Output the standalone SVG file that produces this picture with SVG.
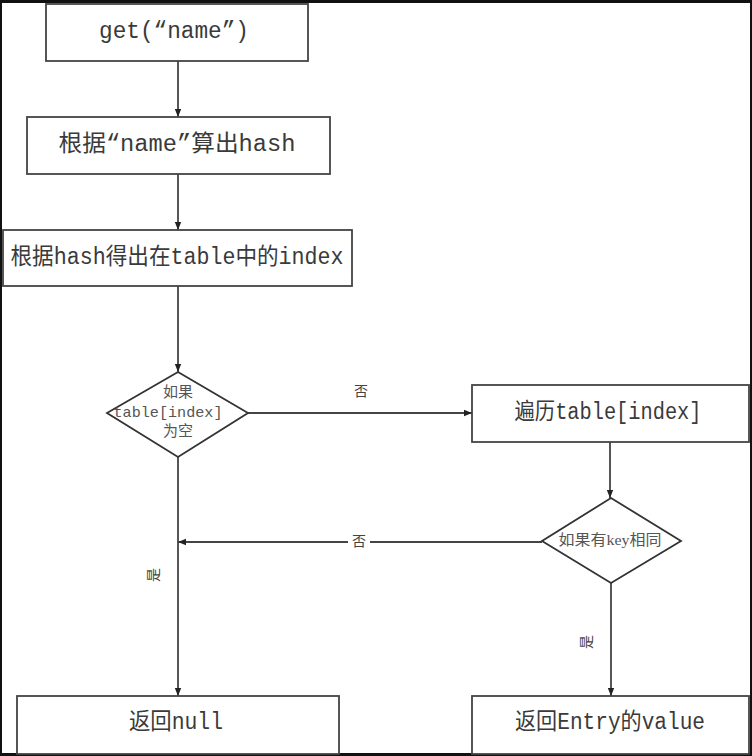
<svg xmlns="http://www.w3.org/2000/svg" width="752" height="756" viewBox="0 0 752 756">
  <defs>
    <marker id="arr" viewBox="0 0 10 10" refX="10" refY="5" markerWidth="8" markerHeight="8" markerUnits="userSpaceOnUse" orient="auto">
      <path d="M0,1 L10,5 L0,9 Z" fill="#222"/>
    </marker>
    <style>
      .box { fill: #fff; stroke: #444; stroke-width: 1.8; }
      .dia { fill: #fff; stroke: #333; stroke-width: 1.8; }
      .ln { fill: none; stroke: #444; stroke-width: 1.8; }
      .t { font-family: "Liberation Mono", "Noto Sans CJK SC", monospace; font-size: 23px; fill: #3a3a3a; text-anchor: middle; dominant-baseline: central; }
      .s { font-family: "Liberation Mono", "Noto Sans CJK SC", monospace; font-size: 15px; fill: #555; text-anchor: middle; dominant-baseline: central; }
      .k { font-family: "Liberation Serif", "Noto Sans CJK SC", serif; font-size: 15px; fill: #555; text-anchor: middle; dominant-baseline: central; }
      .lbl { font-family: "Noto Sans CJK SC", sans-serif; font-size: 14px; fill: #444; text-anchor: middle; dominant-baseline: central; }
    </style>
  </defs>
  <rect x="0" y="0" width="752" height="756" fill="#111"/>
  <rect x="2" y="3" width="748" height="750" fill="#fff"/>

  <g id="connectors">
    <line class="ln" x1="178" y1="61" x2="178" y2="117" marker-end="url(#arr)"/>
    <line class="ln" x1="178" y1="174" x2="178" y2="230" marker-end="url(#arr)"/>
    <line class="ln" x1="178" y1="286" x2="178" y2="372" marker-end="url(#arr)"/>
    <line class="ln" x1="248" y1="413" x2="472" y2="413" marker-end="url(#arr)"/>
    <line class="ln" x1="610" y1="442" x2="610" y2="498" marker-end="url(#arr)"/>
    <line class="ln" x1="542" y1="542" x2="178" y2="542" marker-end="url(#arr)"/>
    <line class="ln" x1="178" y1="457" x2="178" y2="696" marker-end="url(#arr)"/>
    <line class="ln" x1="611" y1="583" x2="611" y2="696" marker-end="url(#arr)"/>
    <rect x="348" y="530" width="22" height="22" fill="#fff"/>
    <text class="lbl" x="359" y="540">否</text>
    <text class="lbl" x="361" y="390">否</text>
    <text class="lbl" transform="translate(152 575) rotate(-90)" x="0" y="0" font-size="12">是</text>
    <text class="lbl" transform="translate(585 642) rotate(-90)" x="0" y="0" font-size="12">是</text>
  </g>

  <g id="n1">
    <rect class="box" x="46" y="4" width="262" height="57"/>
    <text class="t" x="174" y="32" textLength="150" lengthAdjust="spacingAndGlyphs">get(“name”)</text>
  </g>
  <g id="n2">
    <rect class="box" x="27" y="117" width="303" height="57"/>
    <text class="t" x="177" y="145" textLength="237" lengthAdjust="spacingAndGlyphs">根据“name”算出hash</text>
  </g>
  <g id="n3">
    <rect class="box" x="3" y="230" width="349" height="56"/>
    <text class="t" x="177" y="258" textLength="333" lengthAdjust="spacingAndGlyphs">根据hash得出在table中的index</text>
  </g>
  <g id="d1">
    <polygon class="dia" points="178,372 248,413 178,457 107,413"/>
    <text class="s" x="178" y="393">如果</text>
    <text class="s" x="168" y="413" textLength="109" lengthAdjust="spacingAndGlyphs">table[index]</text>
    <text class="s" x="178" y="432">为空</text>
  </g>
  <g id="n4">
    <rect class="box" x="472" y="385" width="277" height="57"/>
    <text class="t" x="608" y="413" textLength="187" lengthAdjust="spacingAndGlyphs">遍历table[index]</text>
  </g>
  <g id="d2">
    <polygon class="dia" points="611,498 681,541 611,583 542,541"/>
    <text class="k" x="610" y="540" textLength="103" lengthAdjust="spacingAndGlyphs">如果有key相同</text>
  </g>
  <g id="n5">
    <rect class="box" x="17" y="696" width="322" height="58"/>
    <text class="t" x="176" y="723" textLength="94" lengthAdjust="spacingAndGlyphs">返回null</text>
  </g>
  <g id="n6">
    <rect class="box" x="472" y="696" width="277" height="58"/>
    <text class="t" x="610" y="723" textLength="190" lengthAdjust="spacingAndGlyphs">返回Entry的value</text>
  </g>
</svg>
